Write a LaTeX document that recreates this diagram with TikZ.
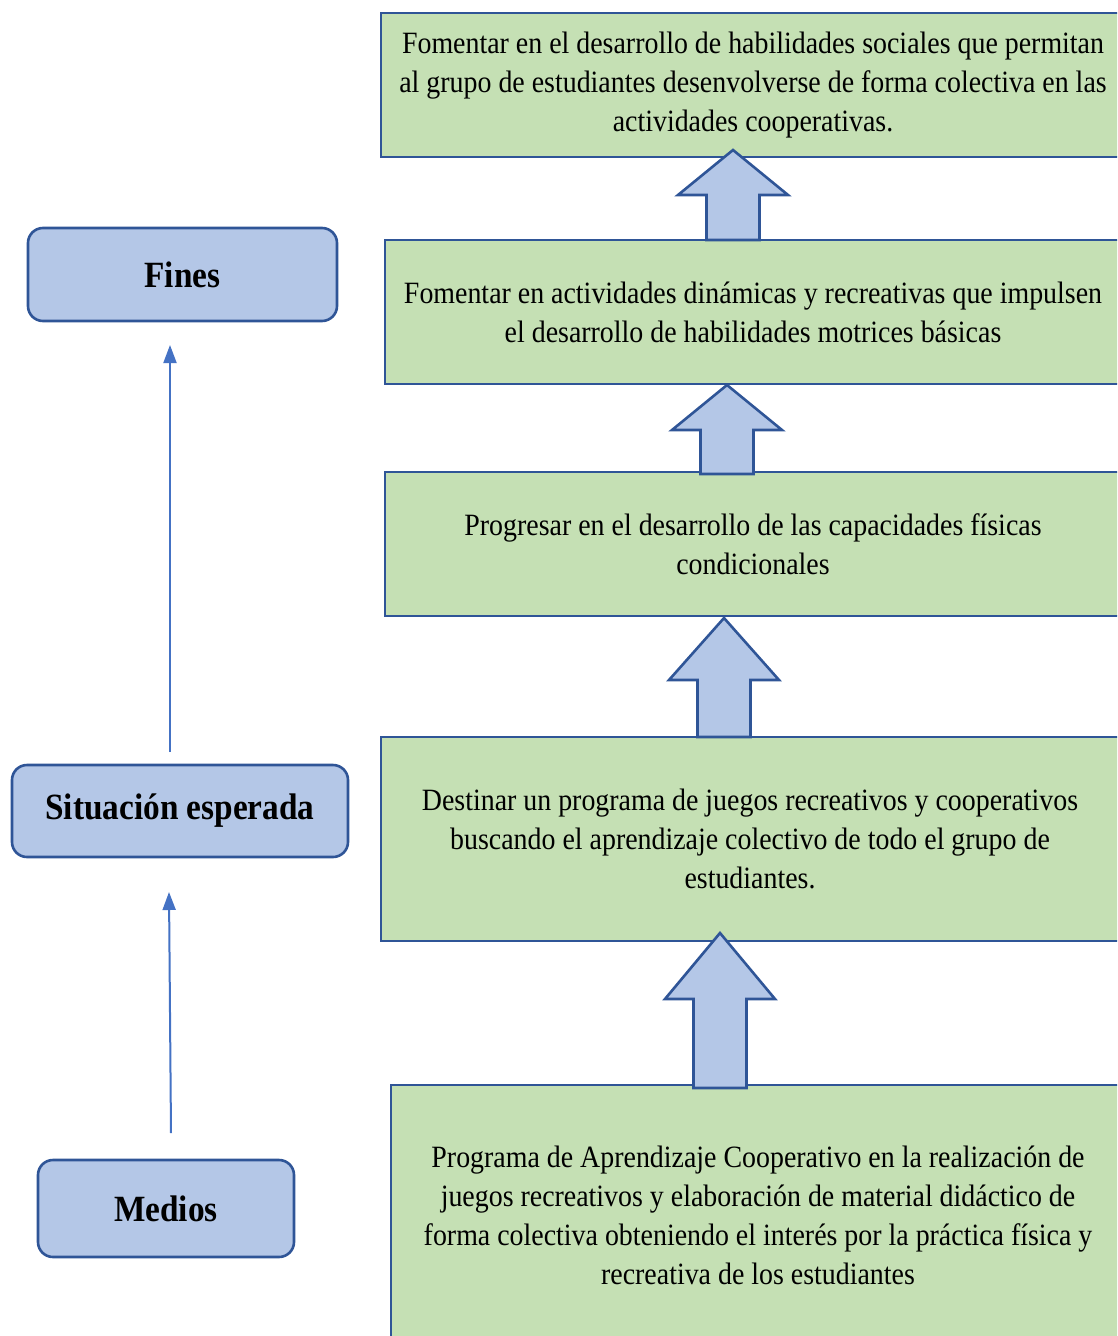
\documentclass[tikz,border=0pt]{standalone}
\usepackage{fontspec}
\setmainfont[FakeStretch=0.9]{Liberation Serif}
\usetikzlibrary{arrows.meta}
\definecolor{gfill}{RGB}{197,224,180}
\definecolor{bfill}{RGB}{180,199,231}
\definecolor{bdraw}{RGB}{47,85,151}
\definecolor{lblue}{RGB}{68,114,196}
\tikzset{
  gbox/.style={draw=bdraw, line width=2.6pt, fill=gfill, inner sep=0pt, align=center,
    font=\fontsize{31}{39}\selectfont},
  lbox/.style={draw=bdraw, line width=2.6pt, fill=bfill, rounded corners=15pt, inner sep=0pt,
    font=\fontsize{37}{44}\selectfont\bfseries},
  blk/.style={draw=bdraw, line width=2.6pt, fill=bfill, line join=miter},
  conn/.style={draw=lblue, line width=2pt, -{Triangle[length=18pt,width=13pt]}}
}
\newcommand\mkblkarrow[4]{% center x, tip y, head base y, bottom y
  \draw[blk] (#1-26.5,#4) -- (#1-26.5,#3) -- (#1-55,#3) -- (#1,#2) -- (#1+55,#3)
    -- (#1+26.5,#3) -- (#1+26.5,#4) -- cycle;}
\begin{document}
\begin{tikzpicture}[x=1pt,y=-1pt]
\useasboundingbox (0,0) rectangle (1117,1336);
\clip (0,0) rectangle (1117,1336);
% green boxes
\node[gbox, minimum width=744pt, minimum height=144pt] (b1) at (753,85)
  {Fomentar en el desarrollo de habilidades sociales que permitan\\
   al grupo de estudiantes desenvolverse de forma colectiva en las\\
   actividades cooperativas.};
\node[gbox, minimum width=736pt, minimum height=144pt] (b2) at (753,312)
  {Fomentar en actividades dinámicas y recreativas que impulsen\\
   el desarrollo de habilidades motrices básicas};
\node[gbox, minimum width=736pt, minimum height=144pt] (b3) at (753,544)
  {Progresar en el desarrollo de las capacidades físicas\\
   condicionales};
\node[gbox, minimum width=738pt, minimum height=204pt] (b4) at (750,839)
  {Destinar un programa de juegos recreativos y cooperativos\\
   buscando el aprendizaje colectivo de todo el grupo de\\
   estudiantes.};
\node[gbox, minimum width=734pt, minimum height=260pt] (b5) at (758,1215)
  {Programa de Aprendizaje Cooperativo en la realización de\\
   juegos recreativos y elaboración de material didáctico de\\
   forma colectiva obteniendo el interés por la práctica física y\\
   recreativa de los estudiantes};
% block arrows
\mkblkarrow{733}{150}{195}{240}
\mkblkarrow{727}{385}{430}{474}
\mkblkarrow{724}{618}{680}{737}
\mkblkarrow{720}{933}{999}{1088}
% left boxes
\node[lbox, minimum width=309pt, minimum height=93pt] (fines) at (182.5,274.5) {Fines};
\node[lbox, minimum width=336pt, minimum height=92pt] (sit) at (180,811) {Situación esperada};
\node[lbox, minimum width=256pt, minimum height=97pt] (medios) at (166,1208.5) {Medios};
% thin arrows
\coordinate (s1) at (170,752);
\coordinate (e1) at (170,345);
\coordinate (s2) at (171,1133);
\coordinate (e2) at (169,892);
\draw[conn] (s1) -- (e1);
\draw[conn] (s2) -- (e2);
\end{tikzpicture}
\end{document}
